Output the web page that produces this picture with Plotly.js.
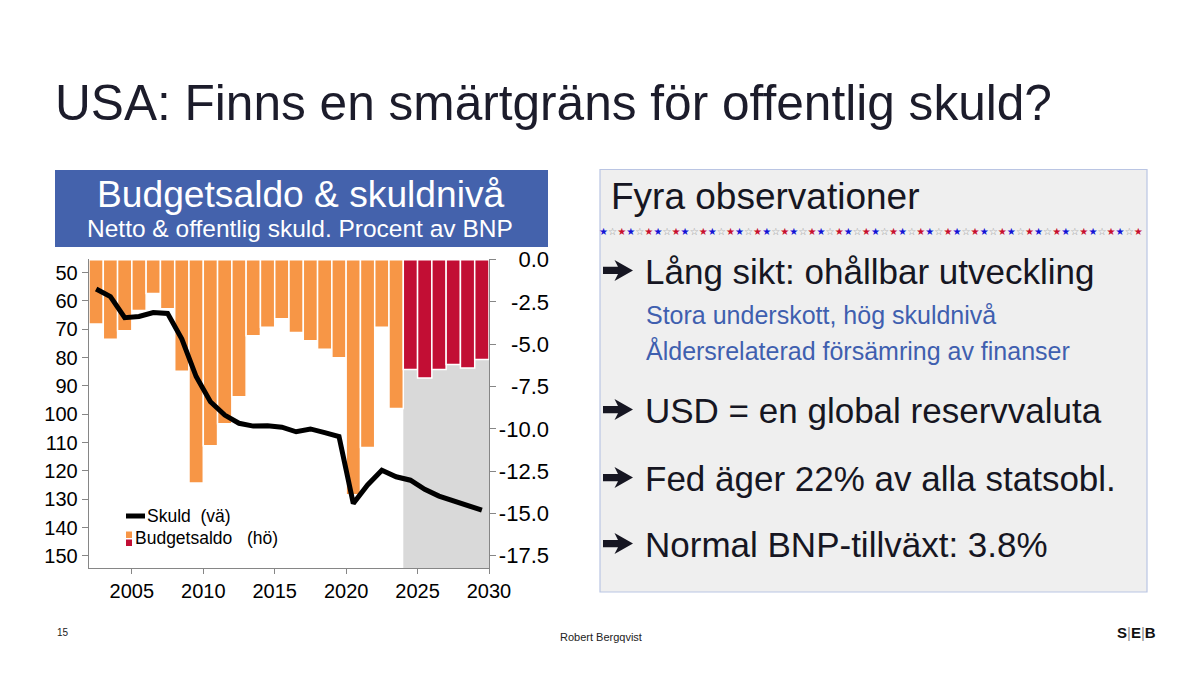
<!DOCTYPE html>
<html>
<head>
<meta charset="utf-8">
<script src="https://cdn.plot.ly/plotly-3.0.1.min.js"></script>
<style>html,body{margin:0;padding:0;background:#fff;}#chart{width:1200px;height:675px;}</style>
</head>
<body>
<div id="chart"></div>
<script>
// ---- data ----
const years = [2002,2003,2004,2005,2006,2007,2008,2009,2010,2011,2012,2013,2014,2015,
               2016,2017,2018,2019,2020,2021,2022,2023,2024,2025,2026,2027,2028,2029];
const budgetBalance = [-3.8,-4.7,-4.2,-3.0,-2.0,-2.9,-6.6,-13.2,-11.0,-9.7,-8.1,-4.5,-4.0,-3.5,
                       -4.3,-4.8,-5.3,-5.8,-13.9,-11.1,-4.0,-8.8,-6.5,-7.0,-6.5,-6.2,-6.4,-5.9];
const debt = [55.8,58.5,65.9,65.5,64.1,64.4,73.5,86.7,95.6,100.3,103.2,104.2,104.1,104.6,
              106.2,105.2,106.5,107.9,131.5,125.0,119.8,122.1,123.3,126.5,128.9,130.7,132.4,133.9];
const forecastStart = 2024;
const xTicks = [2005,2010,2015,2020,2025,2030];
const debtTicks = [50,60,70,80,90,100,110,120,130,140,150];
const budgetTicks = [0,-2.5,-5,-7.5,-10,-12.5,-15,-17.5];
const budgetTickText = ['0.0','-2.5','-5.0','-7.5','-10.0','-12.5','-15.0','-17.5'];

// ---- helpers ----
const W = 1200, H = 675;
const px = x => x / W;
const py = y => 1 - y / H;
const FONT = 'Liberation Sans, Arial, sans-serif';
const ORANGE = '#F79646', RED = '#C20E34', GREY = '#D9D9D9', AXIS = '#868686';
const INK = '#161622', SUB = '#3F5FAF';

function ann(text, x, y, size, color, xanchor, family) {
  return {
    text: text, x: px(x), y: py(y), xref: 'paper', yref: 'paper',
    showarrow: false, xanchor: xanchor || 'left', yanchor: 'middle',
    font: {family: family || FONT, size: size, color: color}
  };
}

// heavy bullet arrow drawn as a path (left x, centre y in pixels)
function arrow(x0, yc) {
  const pts = [[0,-3.6],[15,-3.6],[11.5,-10.5],[30,0],[11.5,10.5],[15,3.6],[0,3.6]];
  const d = pts.map((p, i) => (i ? 'L' : 'M') + px(x0 + p[0]).toFixed(5) + ',' + py(yc + p[1]).toFixed(5)).join(' ') + ' Z';
  return {type: 'path', xref: 'paper', yref: 'paper', path: d, fillcolor: INK, line: {width: 0}};
}

const barColors = years.map(y => y >= forecastStart ? RED : ORANGE);
const lineX = years.map(y => y + 0.5);

const traces = [
  {type: 'bar', x: years, y: budgetBalance, width: 1, offset: 0, yaxis: 'y',
   marker: {color: barColors, line: {color: '#ffffff', width: 1.5}}, hoverinfo: 'x+y'},
  // carrier for the right-hand tick labels (no visible marks)
  {type: 'scatter', mode: 'markers', x: years, y: budgetBalance, yaxis: 'y3',
   marker: {opacity: 0, size: 1}, hoverinfo: 'skip'},
  {type: 'scatter', mode: 'lines', x: lineX, y: debt, yaxis: 'y2',
   line: {color: '#000000', width: 5}, hoverinfo: 'x+y'}
];

// star divider
const starPattern = ['#1414D6', 'open', '#C8102E'];
let stars = '';
for (let i = 0; i < 60; i++) {
  const c = starPattern[i % 3];
  stars += c === 'open' ? '<span style="color:#8c8c8c">☆</span>' : '<span style="color:' + c + '">★</span>';
}

const annotations = [
  ann('USA: Finns en smärtgräns för offentlig skuld?', 53, 103.5, 49.6, '#1C1C2B'),
  ann('Budgetsaldo &amp; skuldnivå', 300.5, 194, 37.2, '#ffffff', 'center'),
  ann('Netto &amp; offentlig skuld. Procent av BNP', 300, 228.4, 24.5, '#ffffff', 'center'),
  // legend
  ann('Skuld\u00a0 (vä)', 145, 515.8, 17.5, '#000000'),
  ann('Budgetsaldo\u00a0\u00a0 (hö)', 132.5, 538.4, 17.5, '#000000'),
  // right panel
  ann('Fyra observationer', 609, 196, 37, INK),
  ann(stars, 870.5, 231.5, 10.1, '#000', 'center', 'DejaVu Sans'),
  ann('Lång sikt: ohållbar utveckling', 643, 271.8, 35, INK),
  ann('Stora underskott, hög skuldnivå', 644, 314.6, 25, SUB),
  ann('Åldersrelaterad försämring av finanser', 644, 350.3, 25, SUB),
  ann('USD = en global reservvaluta', 643, 410.8, 35, INK),
  ann('Fed äger 22% av alla statsobl.', 643, 478.8, 35, INK),
  ann('Normal BNP-tillväxt: 3.8%', 643, 544.8, 35, INK),
  // footer
  ann('15', 55, 632, 10, '#222222'),
  ann('Robert Bergqvist', 558, 637, 11, '#222222'),
  ann('<b>S</b><span style="color:#8c8c8c">|</span><b>E</b><span style="color:#8c8c8c">|</span><b>B</b>',
      1136.5, 632.5, 15, '#111111', 'center')
];

const shapes = [
  // forecast shading
  {type: 'rect', xref: 'x', yref: 'y domain', x0: forecastStart, x1: years[years.length - 1] + 1, y0: 0, y1: 1,
   fillcolor: GREY, line: {width: 0}, layer: 'below'},
  // title box
  {type: 'rect', xref: 'paper', yref: 'paper', x0: px(55), x1: px(548), y0: py(247), y1: py(170),
   fillcolor: '#4462AC', line: {width: 0}, layer: 'below'},
  // right panel
  {type: 'rect', xref: 'paper', yref: 'paper', x0: px(600), x1: px(1147), y0: py(592), y1: py(169.5),
   fillcolor: '#EFEFEF', line: {color: '#BAC5E3', width: 1.2}, layer: 'below'},
  // legend symbols
  {type: 'line', xref: 'paper', yref: 'paper', x0: px(126), x1: px(145), y0: py(516), y1: py(516),
   line: {color: '#000', width: 5}},
  {type: 'rect', xref: 'paper', yref: 'paper', x0: px(126), x1: px(132), y0: py(538), y1: py(531.5),
   fillcolor: ORANGE, line: {width: 0}},
  {type: 'rect', xref: 'paper', yref: 'paper', x0: px(126), x1: px(132), y0: py(546), y1: py(539.5),
   fillcolor: RED, line: {width: 0}},
  // bullet arrows
  arrow(603, 270.4), arrow(603, 409.6), arrow(603, 477.6), arrow(603, 543.6)
];

const layout = {
  width: W, height: H,
  margin: {l: 0, r: 0, t: 0, b: 0},
  paper_bgcolor: '#ffffff', plot_bgcolor: 'rgba(0,0,0,0)',
  showlegend: false, bargap: 0,
  font: {family: FONT, color: '#000'},
  xaxis: {domain: [px(89), px(489)], range: [2002, 2030], tickvals: xTicks,
          ticks: 'outside', ticklen: 5, tickcolor: AXIS, showline: true, linecolor: AXIS, linewidth: 1.3,
          showgrid: false, zeroline: false, tickfont: {size: 20, color: '#000', family: FONT}, anchor: 'y'},
  yaxis: {domain: [py(568), py(259)], range: [-18.23, 0.04], side: 'right', anchor: 'x',
          tickvals: budgetTicks, ticks: 'outside', ticklen: 6, tickcolor: AXIS, showticklabels: false,
          showline: true, linecolor: AXIS, linewidth: 1.3, showgrid: false, zeroline: false},
  yaxis2: {overlaying: 'y', side: 'left', anchor: 'x', range: [154.3, 45.2], tickvals: debtTicks,
           ticks: 'outside', ticklen: 6, tickcolor: AXIS, showline: true, linecolor: AXIS, linewidth: 1.3,
           showgrid: false, zeroline: false, tickfont: {size: 20, color: '#000', family: FONT}},
  yaxis3: {overlaying: 'y', side: 'left', anchor: 'free', position: px(549), range: [-18.23, 0.04],
           tickvals: budgetTicks, ticktext: budgetTickText, ticks: '', showline: false,
           showgrid: false, zeroline: false, tickfont: {size: 22, color: '#000', family: FONT}},
  annotations: annotations,
  shapes: shapes
};

Plotly.newPlot('chart', traces, layout, {staticPlot: true, displayModeBar: false});
</script>
</body>
</html>
